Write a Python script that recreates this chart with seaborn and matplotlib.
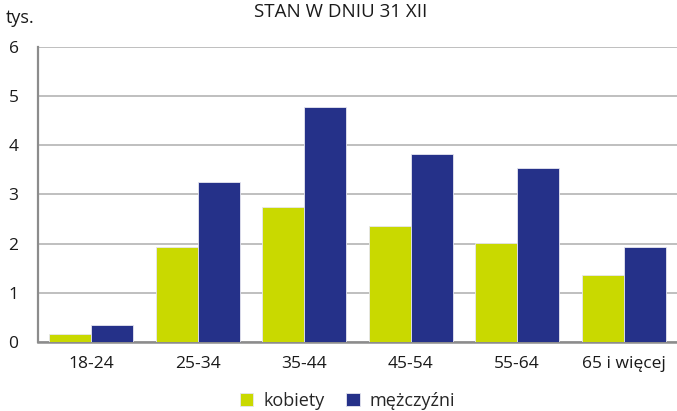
import matplotlib
matplotlib.use("Agg")
import matplotlib.pyplot as plt
import seaborn as sns
import pandas as pd

age_groups = ["18-24", "25-34", "35-44", "45-54", "55-64", "65 i więcej"]
kobiety = [0.16, 1.93, 2.75, 2.35, 2.01, 1.37]
mezczyzni = [0.35, 3.26, 4.77, 3.83, 3.53, 1.94]
series_names = ["kobiety", "mężczyźni"]
colors = ["#c9d900", "#253189"]

df = pd.DataFrame({
    "grupa": age_groups * 2,
    "wartosc": kobiety + mezczyzni,
    "plec": [series_names[0]] * len(age_groups) + [series_names[1]] * len(age_groups),
})

sns.set_style("white")
plt.rcParams["font.family"] = ["Open Sans", "DejaVu Sans"]

fig = plt.figure(figsize=(6.77, 4.11), dpi=100)
ax = fig.add_axes([0.0561, 0.168, 0.9439, 0.7176])

sns.barplot(data=df, x="grupa", y="wartosc", hue="plec", palette=colors,
            width=0.79, saturation=1, edgecolor="#e6e6f0", linewidth=0.6,
            ax=ax, zorder=3)

ax.set_ylim(0, 6)
ax.set_xlim(-0.5, len(age_groups) - 0.5)
ax.set_yticks(range(0, 7))
ax.yaxis.grid(True, color="#b4b4b4", linewidth=1.2, zorder=0)
ax.set_axisbelow(True)
ax.set_xlabel("")
ax.set_ylabel("")
for s in ["top", "right"]:
    ax.spines[s].set_visible(False)
ax.spines["left"].set_color("#8c8c8c")
ax.spines["left"].set_linewidth(1.6)
ax.spines["bottom"].set_color("#8c8c8c")
ax.spines["bottom"].set_linewidth(1.8)
ax.tick_params(axis="both", length=0, labelsize=12.5, colors="#1a1a1a")
ax.tick_params(axis="x", pad=10)
ax.tick_params(axis="y", pad=14)

fig.text(0.008, 0.955, "tys.", fontsize=13, color="#1a1a1a", va="center")
fig.text(0.503, 0.972, "STAN W DNIU 31 XII", fontsize=13.5, color="#1a1a1a",
         ha="center", va="center")

handles, labels = ax.get_legend_handles_labels()
ax.get_legend().remove()
fig.legend(handles, labels, loc="lower center", bbox_to_anchor=(0.513, 0.0),
           ncol=2, frameon=False, fontsize=13, handlelength=0.75, handleheight=0.75,
           handletextpad=0.55, columnspacing=1.2, borderaxespad=0, borderpad=0.05)

fig.savefig("out.png", dpi=100)
